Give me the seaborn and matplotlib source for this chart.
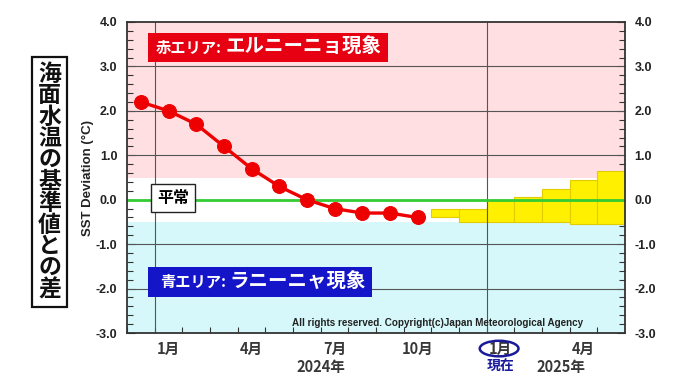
import matplotlib
matplotlib.use("Agg")
import matplotlib.pyplot as plt
from matplotlib.patches import Rectangle, Ellipse
from matplotlib.ticker import MultipleLocator, FixedLocator
import matplotlib.transforms as mtransforms
import pandas as pd
import seaborn as sns

# month index: 0 = Jan 2024
obs_month = [-1, 0, 1, 2, 3, 4, 5, 6, 7, 8, 9]
obs_value = [2.2, 2.0, 1.7, 1.2, 0.7, 0.3, 0.0, -0.2, -0.3, -0.3, -0.4]

fc_month = [10, 11, 12, 13, 14, 15, 16]
fc_low = [-0.4, -0.5, -0.5, -0.5, -0.5, -0.55, -0.55]
fc_high = [-0.2, -0.2, 0.0, 0.05, 0.25, 0.45, 0.65]

tick_month = [0, 3, 6, 9, 12, 15]
tick_label = ["1月", "4月", "7月", "10月", "1月", "4月"]
year_month = [5.5, 14.2]
year_label = ["2024年", "2025年"]

JP = "Noto Sans CJK JP"

sns.set_theme(style="ticks")
plt.rcParams["font.family"] = ["Liberation Sans", JP, "DejaVu Sans"]

df_obs = pd.DataFrame({"month": obs_month, "dev": obs_value})

fig = plt.figure(figsize=(6.8, 3.82), dpi=100)
ax = fig.add_axes([127 / 680, 49 / 382, 498 / 680, 311 / 382])

# background zones
ax.axhspan(0.5, 4.0, color="#FFDFE2", lw=0, zorder=0)
ax.axhspan(-3.0, -0.5, color="#D6F8FA", lw=0, zorder=0)

# forecast range boxes
ax.bar(fc_month, [h - l for h, l in zip(fc_high, fc_low)], bottom=fc_low,
       width=1.0, color="#FFF000", edgecolor="#E2CC00", lw=0.8, zorder=1)

# grid
for y in range(-2, 4):
    ax.axhline(y, color="#555555", lw=0.8, zorder=2)
for x in [-0.5, 11.5]:
    ax.axvline(x, color="#555555", lw=0.8, zorder=2)
ax.axhline(0, color="#33CC33", lw=2, zorder=3)

# observed line
sns.lineplot(data=df_obs, x="month", y="dev", ax=ax, color="#EE0000", lw=2.4,
             marker="o", markersize=10, markeredgecolor="#EE0000", zorder=4)

ax.set_xlim(-1.5, 16.5)
ax.set_ylim(-3.0, 4.0)
ax.set_xlabel("")
ax.set_ylabel("SST Deviation (°C)", fontsize=9.5, fontweight="bold", labelpad=1, color="#222222")

ax.yaxis.set_minor_locator(MultipleLocator(0.2))
ax.set_yticks(range(-3, 5))
ax.set_yticklabels([f"{v:.1f}" for v in range(-3, 5)])
ax.tick_params(axis="y", which="both", direction="in", left=True, right=True,
               labelleft=True, labelright=True, colors="#333333", labelcolor="#222222",
               labelsize=9, pad=7)
ax.tick_params(axis="y", which="major", length=6, width=0.8)
ax.tick_params(axis="y", which="minor", length=4, width=0.8)
for t in ax.yaxis.get_major_ticks():
    t.label1.set_fontweight("bold")
    t.label2.set_fontweight("bold")

ax.set_xticks(tick_month)
ax.set_xticklabels(tick_label, fontfamily=JP, fontsize=10.5, fontweight="bold", color="#383838")
ax.xaxis.set_minor_locator(FixedLocator([m - 0.5 for m in range(-1, 17)]))
ax.tick_params(axis="x", which="major", length=0, pad=6)
ax.tick_params(axis="x", which="minor", direction="in", length=4, width=0.8,
               bottom=True, top=False, colors="#333333")

for s in ax.spines.values():
    s.set_color("#333333")
    s.set_linewidth(1.3)
    s.set_zorder(5)

trans = mtransforms.blended_transform_factory(ax.transData, ax.transAxes)
for m, lab in zip(year_month, year_label):
    ax.text(m, -0.11, lab, transform=trans, ha="center", va="center", fontfamily=JP,
            fontsize=10.5, fontweight="bold", color="#383838")
ax.text(12, -0.11, "現在", transform=trans, ha="center", va="center", fontfamily=JP,
        fontsize=10, fontweight="bold", color="#1A1AA0")
ax.add_patch(Ellipse((11.95, -0.05), 1.4, 0.05, transform=trans, fill=False,
                     ec="#1A1A9A", lw=1.8, clip_on=False))

# copyright
ax.text(0.6245, 0.032, "All rights reserved. Copyright(c)Japan Meteorological Agency",
        transform=ax.transAxes, ha="center", va="center", fontsize=7.15,
        fontweight="bold", color="#222222", zorder=6)

# El Nino label
ax.add_patch(Rectangle((21 / 498, 271 / 311), 240 / 498, 29 / 311, transform=ax.transAxes,
                       fc="#E60012", ec="none", zorder=6))
ax.text(29 / 498, 0.918, "赤エリア:", transform=ax.transAxes, ha="left", va="center",
        fontfamily=JP, fontsize=11, fontweight="bold", color="white", zorder=7)
ax.text(99 / 498, 0.918, "エルニーニョ現象", transform=ax.transAxes, ha="left", va="center",
        fontfamily=JP, fontsize=14, fontweight="bold", color="white", zorder=7)

# La Nina label
ax.add_patch(Rectangle((21 / 498, 36 / 311), 224 / 498, 30 / 311, transform=ax.transAxes,
                       fc="#1414C8", ec="none", zorder=6))
ax.text(33 / 498, 0.164, "青エリア:", transform=ax.transAxes, ha="left", va="center",
        fontfamily=JP, fontsize=11, fontweight="bold", color="white", zorder=7)
ax.text(102 / 498, 0.164, "ラニーニャ現象", transform=ax.transAxes, ha="left", va="center",
        fontfamily=JP, fontsize=14, fontweight="bold", color="white", zorder=7)

# normal label
ax.text(46 / 498, 0.434, "平常", transform=ax.transAxes, ha="center", va="center",
        fontfamily=JP, fontsize=11.5, fontweight="bold", color="black", zorder=7,
        bbox=dict(boxstyle="square,pad=0.4", fc="white", ec="#222222", lw=1))

# vertical title
fig.text(49.5 / 680, 1 - 182 / 382, "\n".join("海面水温の基準値との差"), ha="center", va="center",
         fontfamily=JP, fontsize=16.5, fontweight="bold", color="#111111", linespacing=0.92,
         bbox=dict(boxstyle="square,pad=0.25", fc="white", ec="#111111", lw=1.6))

fig.savefig("out.png", dpi=100)
